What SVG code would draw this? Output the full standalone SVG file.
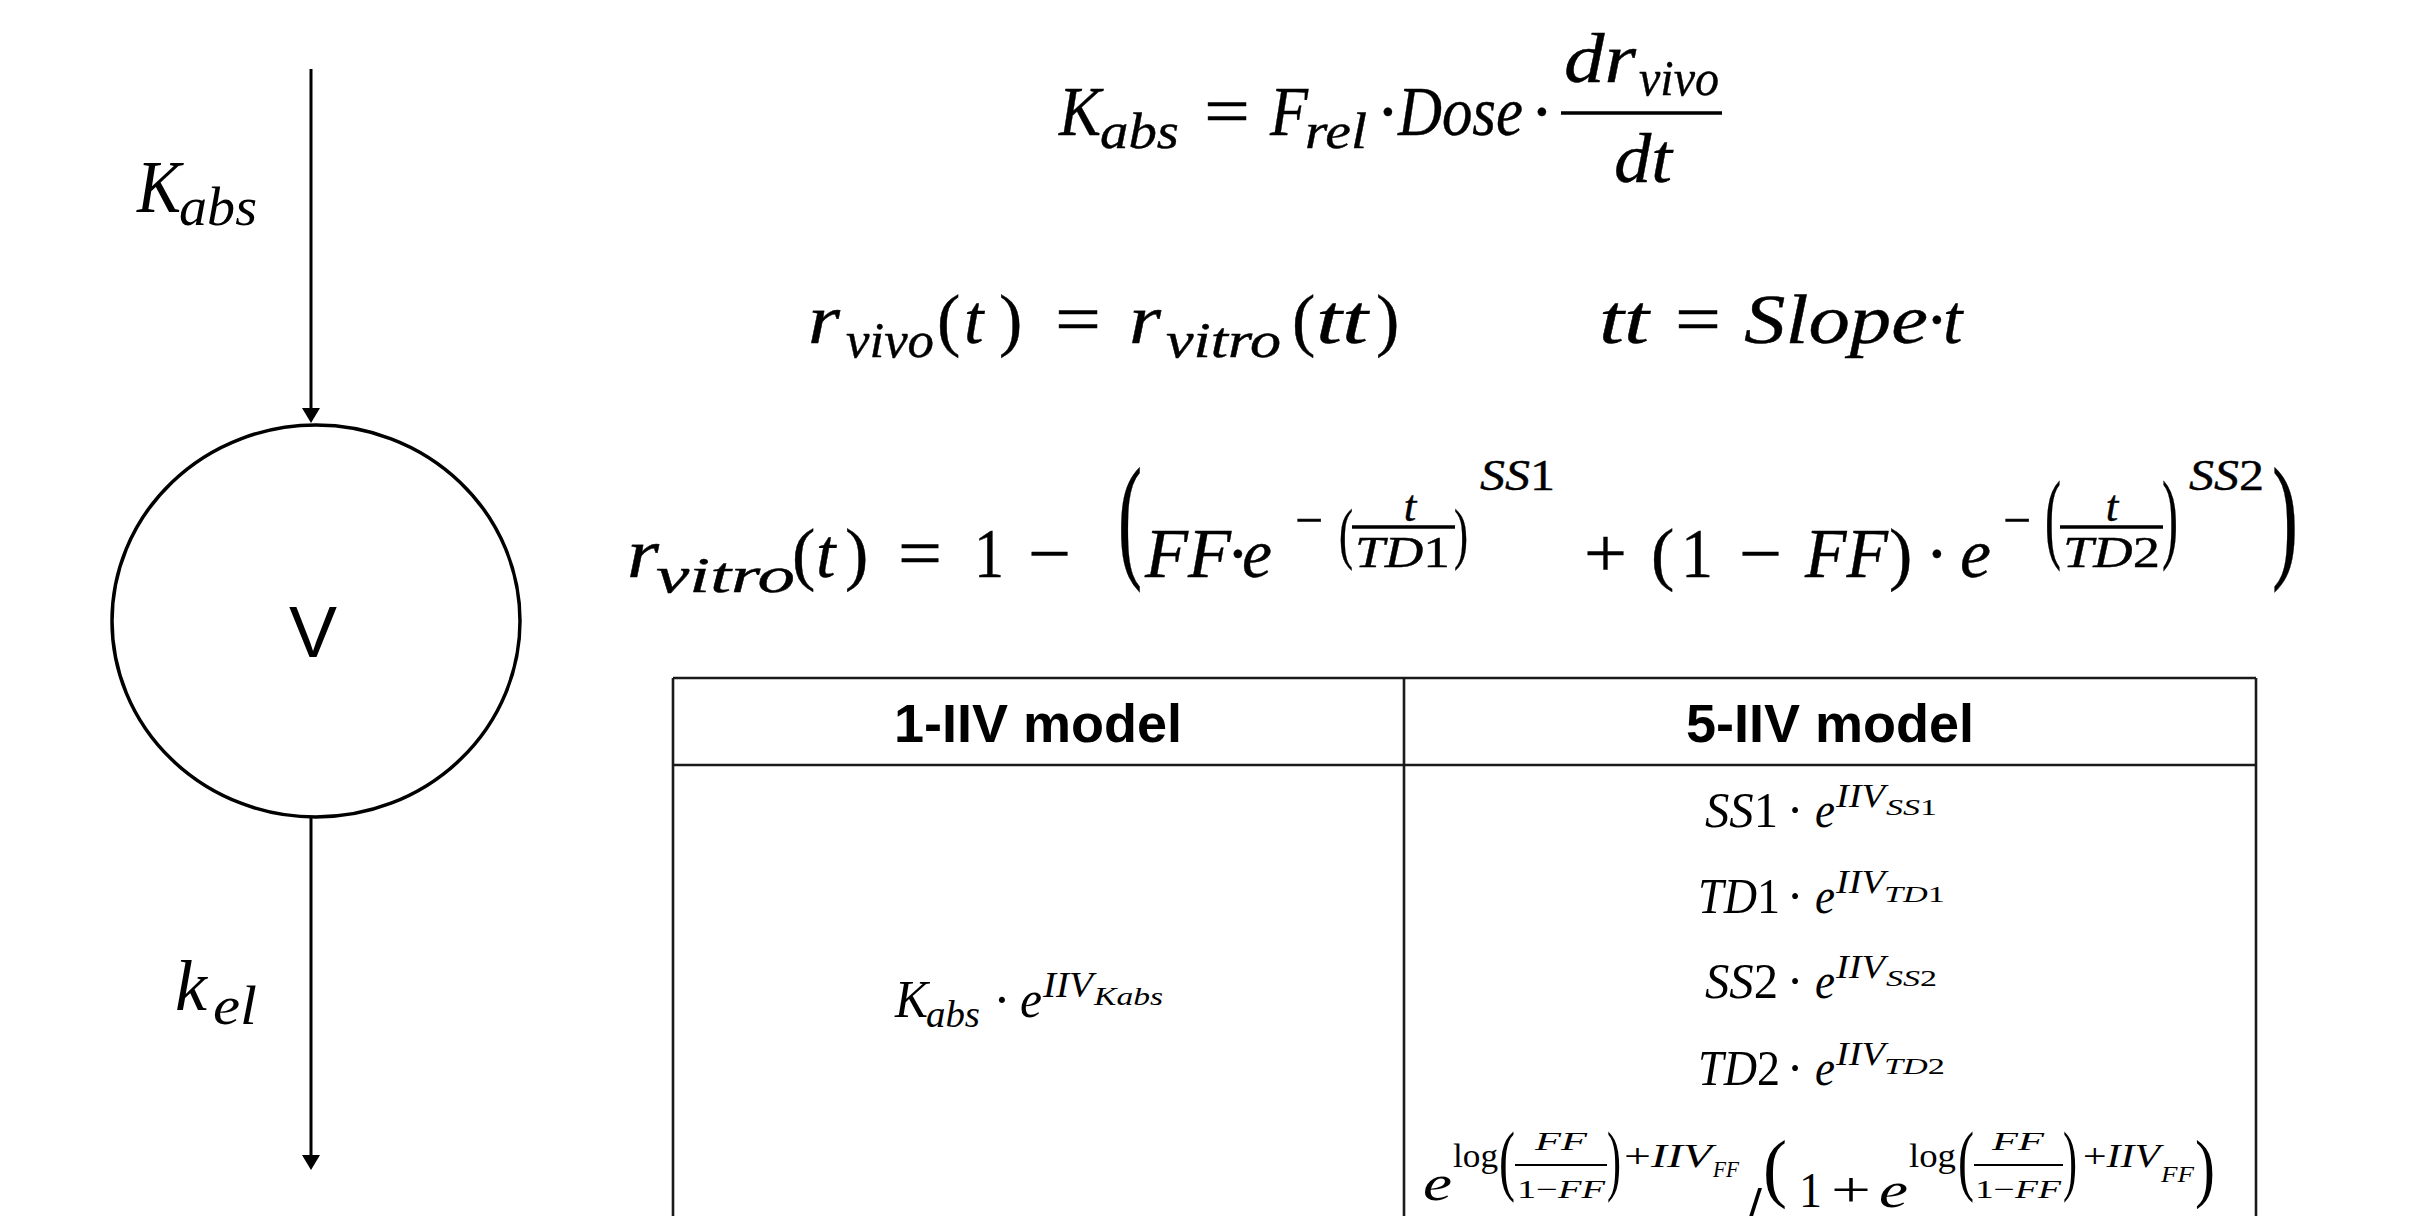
<svg xmlns="http://www.w3.org/2000/svg" width="2411" height="1216" viewBox="0 0 2411 1216">
<style>
.m{font-family:"Liberation Serif","DejaVu Serif",serif;font-style:italic;fill:#000}
.n{font-style:normal}
.s70{font-size:70px}
.s50{font-size:50px}
.s45{font-size:45px}
.eq text{stroke:#000;stroke-width:0.4}
.h{font-family:"Liberation Sans",Arial,sans-serif;font-weight:bold;font-size:54px;text-anchor:middle;fill:#000}
.mid{text-anchor:middle}
.bar{stroke:#000;stroke-width:3.5}
.bar2{stroke:#000;stroke-width:2.2}
.tl{stroke:#1a1a1a;stroke-width:2.6;fill:none}
.conn{stroke:#000;stroke-width:3;fill:none}
</style>
<defs>
<marker id="ah" markerUnits="userSpaceOnUse" markerWidth="16" markerHeight="18" refX="0" refY="9" orient="auto">
<path d="M0,0 L15,9 L0,18 z" fill="#000"/>
</marker>
</defs>
<rect x="0" y="0" width="2411" height="1216" fill="#fff"/>

<g id="connectors">
<line class="conn" x1="311" y1="69" x2="311" y2="408" marker-end="url(#ah)"/>
<line class="conn" x1="311" y1="817" x2="311" y2="1155" marker-end="url(#ah)"/>
</g>

<g id="node-V">
<ellipse cx="316" cy="621" rx="204" ry="196" fill="none" stroke="#000" stroke-width="3.5"/>
<text x="313" y="657" font-family="Liberation Sans, Arial, sans-serif" font-size="72" text-anchor="middle">V</text>
</g>

<g id="label-kabs">
<text class="m" x="137" y="212" font-size="75" textLength="44" lengthAdjust="spacingAndGlyphs">K</text>
<text class="m" x="179" y="225" font-size="55" textLength="78" lengthAdjust="spacingAndGlyphs">abs</text>
</g>
<g id="label-kel">
<text class="m" x="175" y="1010" font-size="72">k</text>
<text class="m" x="213" y="1024" font-size="55" textLength="44" lengthAdjust="spacingAndGlyphs">el</text>
</g>

<g id="eq1" class="eq">
<text class="m s70" x="1059" y="135" textLength="42" lengthAdjust="spacingAndGlyphs">K</text>
<text class="m s50" x="1100" y="148" textLength="79" lengthAdjust="spacingAndGlyphs">abs</text>
<text class="m n s70" x="1204" y="135" textLength="46" lengthAdjust="spacingAndGlyphs">=</text>
<text class="m s70" x="1270" y="135" textLength="38" lengthAdjust="spacingAndGlyphs">F</text>
<text class="m s50" x="1305" y="148" textLength="62" lengthAdjust="spacingAndGlyphs">rel</text>
<text class="m n s70 mid" x="1388" y="135">·</text>
<text class="m s70" x="1398" y="135" textLength="125" lengthAdjust="spacingAndGlyphs">Dose</text>
<text class="m n s70 mid" x="1542" y="135">·</text>
<line class="bar" x1="1561" y1="113" x2="1722" y2="113"/>
<text class="m s70" x="1564" y="82" textLength="72" lengthAdjust="spacingAndGlyphs">dr</text>
<text class="m s50" x="1639" y="95" textLength="80" lengthAdjust="spacingAndGlyphs">vivo</text>
<text class="m s70" x="1614" y="182" textLength="58" lengthAdjust="spacingAndGlyphs">dt</text>
</g>

<g id="eq2" class="eq">
<text class="m s70" x="808" y="343" textLength="32" lengthAdjust="spacingAndGlyphs">r</text>
<text class="m s50" x="846" y="357" textLength="88" lengthAdjust="spacingAndGlyphs">vivo</text>
<text class="m n s70" x="937" y="343">(</text>
<text class="m s70" x="964" y="343">t</text>
<text class="m n s70" x="999" y="343">)</text>
<text class="m n s70" x="1055" y="343" textLength="46" lengthAdjust="spacingAndGlyphs">=</text>
<text class="m s70" x="1129" y="343" textLength="32" lengthAdjust="spacingAndGlyphs">r</text>
<text class="m s50" x="1166" y="357" textLength="115" lengthAdjust="spacingAndGlyphs">vitro</text>
<text class="m n s70" x="1292" y="343">(</text>
<text class="m s70" x="1316" y="343" textLength="52" lengthAdjust="spacingAndGlyphs">tt</text>
<text class="m n s70" x="1376" y="343">)</text>
<text class="m s70" x="1599" y="343" textLength="50" lengthAdjust="spacingAndGlyphs">tt</text>
<text class="m n s70" x="1675" y="343" textLength="46" lengthAdjust="spacingAndGlyphs">=</text>
<text class="m s70" x="1744" y="343" textLength="184" lengthAdjust="spacingAndGlyphs">Slope</text>
<text class="m n s70 mid" x="1937" y="343">·</text>
<text class="m s70" x="1943" y="343">t</text>
</g>

<g id="eq3" class="eq">
<text class="m s70" x="627" y="577" textLength="32" lengthAdjust="spacingAndGlyphs">r</text>
<text class="m s50" x="656" y="592" textLength="139" lengthAdjust="spacingAndGlyphs">vitro</text>
<text class="m n s70" x="792" y="577">(</text>
<text class="m s70" x="816" y="577">t</text>
<text class="m n s70" x="845" y="577">)</text>
<text class="m n s70" x="898" y="577" textLength="44" lengthAdjust="spacingAndGlyphs">=</text>
<text class="m n s70" x="974" y="577" textLength="30" lengthAdjust="spacingAndGlyphs">1</text>
<text class="m n s70" x="1028" y="577" textLength="43" lengthAdjust="spacingAndGlyphs">−</text>
<text class="m n" x="1118" y="563" font-size="137" textLength="24" lengthAdjust="spacingAndGlyphs">(</text>
<text class="m s70" x="1145" y="577" textLength="86" lengthAdjust="spacingAndGlyphs">FF</text>
<text class="m n s70 mid" x="1238" y="577">·</text>
<text class="m s70" x="1242" y="577" textLength="30" lengthAdjust="spacingAndGlyphs">e</text>
<text class="m n s50" x="1295" y="537" textLength="28" lengthAdjust="spacingAndGlyphs">−</text>
<text class="m n" x="1339" y="556" font-size="68" textLength="14" lengthAdjust="spacingAndGlyphs">(</text>
<text class="m s45 mid" x="1410" y="521">t</text>
<line class="bar" x1="1352" y1="527" x2="1455" y2="527"/>
<text class="m s45" x="1355" y="567" textLength="95" lengthAdjust="spacingAndGlyphs">TD<tspan class="n">1</tspan></text>
<text class="m n" x="1454" y="556" font-size="68" textLength="14" lengthAdjust="spacingAndGlyphs">)</text>
<text class="m s45" x="1480" y="490" textLength="75" lengthAdjust="spacingAndGlyphs">SS<tspan class="n">1</tspan></text>
<text class="m n s70" x="1584" y="577" textLength="43" lengthAdjust="spacingAndGlyphs">+</text>
<text class="m n s70" x="1651" y="577">(</text>
<text class="m n s70" x="1681" y="577" textLength="32" lengthAdjust="spacingAndGlyphs">1</text>
<text class="m n s70" x="1739" y="577" textLength="43" lengthAdjust="spacingAndGlyphs">−</text>
<text class="m s70" x="1805" y="577" textLength="83" lengthAdjust="spacingAndGlyphs">FF</text>
<text class="m n s70" x="1889" y="577">)</text>
<text class="m n s70 mid" x="1937" y="577">·</text>
<text class="m s70" x="1960" y="577" textLength="31" lengthAdjust="spacingAndGlyphs">e</text>
<text class="m n s50" x="2003" y="537" textLength="28" lengthAdjust="spacingAndGlyphs">−</text>
<text class="m n" x="2045" y="550" font-size="100" textLength="16" lengthAdjust="spacingAndGlyphs">(</text>
<text class="m s45 mid" x="2112" y="521">t</text>
<line class="bar" x1="2060" y1="527" x2="2163" y2="527"/>
<text class="m s45" x="2063" y="567" textLength="97" lengthAdjust="spacingAndGlyphs">TD<tspan class="n">2</tspan></text>
<text class="m n" x="2162" y="550" font-size="100" textLength="16" lengthAdjust="spacingAndGlyphs">)</text>
<text class="m s45" x="2189" y="490" textLength="75" lengthAdjust="spacingAndGlyphs">SS<tspan class="n">2</tspan></text>
<text class="m n" x="2272" y="563" font-size="137" textLength="26" lengthAdjust="spacingAndGlyphs">)</text>
</g>

<g id="table">
<g id="table-lines">
<line class="tl" x1="673" y1="678" x2="2256" y2="678"/>
<line class="tl" x1="673" y1="765" x2="2256" y2="765"/>
<line class="tl" x1="673" y1="678" x2="673" y2="1216"/>
<line class="tl" x1="1404" y1="678" x2="1404" y2="1216"/>
<line class="tl" x1="2256" y1="678" x2="2256" y2="1216"/>
</g>
<text class="h" x="1038" y="742">1-IIV model</text>
<text class="h" x="1830" y="742">5-IIV model</text>

<g id="cell-1iiv">
<text class="m" x="895" y="1017" font-size="52" textLength="33" lengthAdjust="spacingAndGlyphs">K</text>
<text class="m" x="926" y="1027" font-size="37" textLength="54" lengthAdjust="spacingAndGlyphs">abs</text>
<text class="m n mid" x="1002" y="1017" font-size="52">·</text>
<text class="m" x="1020" y="1017" font-size="52" textLength="22" lengthAdjust="spacingAndGlyphs">e</text>
<text class="m" x="1043" y="997" font-size="35" textLength="50" lengthAdjust="spacingAndGlyphs">IIV</text>
<text class="m" x="1094" y="1005" font-size="26" textLength="69" lengthAdjust="spacingAndGlyphs">Kabs</text>
</g>

<g id="cell-5iiv">
<text class="m" x="1705" y="827" font-size="50" textLength="73" lengthAdjust="spacingAndGlyphs">SS<tspan class="n">1</tspan></text>
<text class="m n mid" x="1795" y="827" font-size="50">·</text>
<text class="m" x="1815" y="827" font-size="50" textLength="20" lengthAdjust="spacingAndGlyphs">e</text>
<text class="m" x="1836" y="807" font-size="33" textLength="49" lengthAdjust="spacingAndGlyphs">IIV</text>
<text class="m" x="1886" y="815" font-size="24" textLength="51" lengthAdjust="spacingAndGlyphs">SS<tspan class="n">1</tspan></text>

<text class="m" x="1698" y="913" font-size="50" textLength="82" lengthAdjust="spacingAndGlyphs">TD<tspan class="n">1</tspan></text>
<text class="m n mid" x="1795" y="913" font-size="50">·</text>
<text class="m" x="1815" y="913" font-size="50" textLength="20" lengthAdjust="spacingAndGlyphs">e</text>
<text class="m" x="1836" y="893" font-size="33" textLength="49" lengthAdjust="spacingAndGlyphs">IIV</text>
<text class="m" x="1884" y="902" font-size="24" textLength="61" lengthAdjust="spacingAndGlyphs">TD<tspan class="n">1</tspan></text>

<text class="m" x="1705" y="998" font-size="50" textLength="73" lengthAdjust="spacingAndGlyphs">SS<tspan class="n">2</tspan></text>
<text class="m n mid" x="1795" y="998" font-size="50">·</text>
<text class="m" x="1815" y="998" font-size="50" textLength="20" lengthAdjust="spacingAndGlyphs">e</text>
<text class="m" x="1836" y="978" font-size="33" textLength="49" lengthAdjust="spacingAndGlyphs">IIV</text>
<text class="m" x="1886" y="986" font-size="24" textLength="51" lengthAdjust="spacingAndGlyphs">SS<tspan class="n">2</tspan></text>

<text class="m" x="1698" y="1085" font-size="50" textLength="82" lengthAdjust="spacingAndGlyphs">TD<tspan class="n">2</tspan></text>
<text class="m n mid" x="1795" y="1085" font-size="50">·</text>
<text class="m" x="1815" y="1085" font-size="50" textLength="20" lengthAdjust="spacingAndGlyphs">e</text>
<text class="m" x="1836" y="1065" font-size="33" textLength="49" lengthAdjust="spacingAndGlyphs">IIV</text>
<text class="m" x="1884" y="1074" font-size="24" textLength="61" lengthAdjust="spacingAndGlyphs">TD<tspan class="n">2</tspan></text>

<text class="m" x="1423" y="1200" font-size="50" textLength="29" lengthAdjust="spacingAndGlyphs">e</text>
<text class="m n" x="1453" y="1167" font-size="33" textLength="45" lengthAdjust="spacingAndGlyphs">log</text>
<text class="m n" x="1499" y="1186" font-size="78" textLength="16" lengthAdjust="spacingAndGlyphs">(</text>
<text class="m mid" x="1561" y="1150" font-size="26" textLength="52" lengthAdjust="spacingAndGlyphs">FF</text>
<line class="bar2" x1="1515" y1="1165" x2="1607" y2="1165"/>
<text class="m mid" x="1561" y="1198" font-size="26" textLength="88" lengthAdjust="spacingAndGlyphs"><tspan class="n">1−</tspan>FF</text>
<text class="m n" x="1607" y="1186" font-size="78" textLength="14" lengthAdjust="spacingAndGlyphs">)</text>
<text class="m" x="1624" y="1167" font-size="33" textLength="88" lengthAdjust="spacingAndGlyphs"><tspan class="n">+</tspan>IIV</text>
<text class="m" x="1713" y="1177" font-size="24" textLength="26" lengthAdjust="spacingAndGlyphs">FF</text>
<text class="m n" x="1740" y="1244" font-size="84" textLength="22" lengthAdjust="spacingAndGlyphs">/</text>
<text class="m n" x="1763" y="1193" font-size="76" textLength="24" lengthAdjust="spacingAndGlyphs">(</text>
<text class="m n" x="1799" y="1207" font-size="50" textLength="23" lengthAdjust="spacingAndGlyphs">1</text>
<text class="m n" x="1831" y="1207" font-size="50" textLength="40" lengthAdjust="spacingAndGlyphs">+</text>
<text class="m" x="1879" y="1207" font-size="50" textLength="29" lengthAdjust="spacingAndGlyphs">e</text>
<text class="m n" x="1909" y="1167" font-size="33" textLength="47" lengthAdjust="spacingAndGlyphs">log</text>
<text class="m n" x="1958" y="1186" font-size="78" textLength="16" lengthAdjust="spacingAndGlyphs">(</text>
<text class="m mid" x="2018" y="1150" font-size="26" textLength="52" lengthAdjust="spacingAndGlyphs">FF</text>
<line class="bar2" x1="1974" y1="1165" x2="2063" y2="1165"/>
<text class="m mid" x="2018" y="1198" font-size="26" textLength="86" lengthAdjust="spacingAndGlyphs"><tspan class="n">1−</tspan>FF</text>
<text class="m n" x="2063" y="1186" font-size="78" textLength="14" lengthAdjust="spacingAndGlyphs">)</text>
<text class="m" x="2083" y="1167" font-size="33" textLength="77" lengthAdjust="spacingAndGlyphs"><tspan class="n">+</tspan>IIV</text>
<text class="m" x="2161" y="1182" font-size="24" textLength="33" lengthAdjust="spacingAndGlyphs">FF</text>
<text class="m n" x="2195" y="1193" font-size="76" textLength="20" lengthAdjust="spacingAndGlyphs">)</text>
</g>
</g>
</svg>
